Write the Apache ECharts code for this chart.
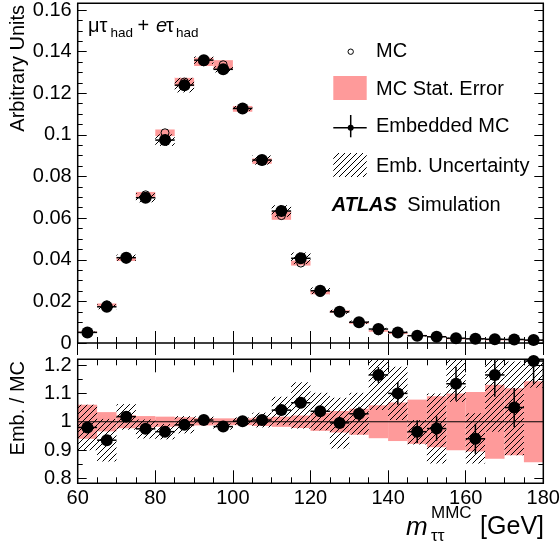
<!DOCTYPE html>
<html><head><meta charset="utf-8">
<script src="https://cdn.jsdelivr.net/npm/echarts@6/dist/echarts.min.js"></script>
<style>html,body{margin:0;padding:0;background:#fff}#c{width:560px;height:548px}</style>
</head><body><div id="c"></div>
<script>
// ---------------- data ----------------
const binCenters = [62.5,67.5,72.5,77.5,82.5,87.5,92.5,97.5,102.5,107.5,112.5,117.5,122.5,127.5,132.5,137.5,142.5,147.5,152.5,157.5,162.5,167.5,172.5,177.5];
const binWidth = 5;
const embValues = [0.0051,0.0174,0.0410,0.0698,0.0975,0.1239,0.1359,0.1315,0.1127,0.0879,0.0634,0.0407,0.0251,0.0150,0.0100,0.0067,0.0051,0.0035,0.0030,0.0023,0.0020,0.0018,0.0017,0.0014];
const mcValues = [0.0052,0.0184,0.0403,0.0712,0.1010,0.1254,0.1351,0.1337,0.1125,0.0874,0.0612,0.0384,0.0242,0.0151,0.0097,0.0058,0.0046,0.0036,0.0031,0.0020,0.0021,0.0015,0.0016,0.0012];
const mcStatErr = [0.0003,0.0006,0.0009,0.0014,0.0016,0.0020,0.0020,0.0022,0.0014,0.0013,0.0020,0.0012,0.0008,0.0006,0.0005,0.0004,0.0003,0.0003,0.0003,0.0002,0.0002,0.0002,0.0002,0.0002];
const embUnc = [0.0004,0.0012,0.0015,0.0022,0.0028,0.0035,0.0018,0.0015,0.0012,0.0022,0.0028,0.0028,0.0016,0.0010,0.0008,0.0006,0.0004,0.0003,0.0003,0.0002,0.0002,0.0002,0.0002,0.0002];
const ratioValues = [0.980,0.935,1.018,0.975,0.965,0.989,1.006,0.983,1.002,1.006,1.041,1.067,1.037,0.996,1.028,1.165,1.100,0.965,0.976,1.134,0.940,1.165,1.050,1.214];
const ratioErr = [0.010,0.010,0.008,0.008,0.008,0.007,0.006,0.006,0.006,0.008,0.010,0.012,0.015,0.020,0.025,0.028,0.040,0.040,0.043,0.060,0.053,0.077,0.069,0.080];
const ratioStatErr = [0.060,0.034,0.023,0.020,0.018,0.016,0.013,0.012,0.012,0.015,0.018,0.022,0.032,0.038,0.046,0.058,0.068,0.078,0.090,0.100,0.105,0.130,0.118,0.143];
const ratioUncLow = [0.900,0.860,0.972,0.941,0.938,0.959,0.993,0.972,0.989,0.980,0.988,0.976,0.970,0.906,0.955,1.041,1.006,0.920,0.853,1.070,0.853,0.965,0.882,1.120];
const ratioUncHigh = [1.060,1.010,1.062,1.008,0.992,1.020,1.019,0.994,1.015,1.032,1.088,1.139,1.102,1.085,1.102,1.290,1.194,1.006,1.100,1.260,1.030,1.360,1.212,1.300];
const xTickLabels = [60,80,100,120,140,160,180];
const yTopTickLabels = [0,0.02,0.04,0.06,0.08,0.1,0.12,0.14,0.16];
const yRatioTickLabels = [0.8,0.9,1,1.1,1.2];

// ---------------- layout ----------------
const FONT = '"Liberation Sans", Arial, Helvetica, sans-serif';
const L = 77.7, W = 465.6;
const F0 = {top: 3.3, bottom: 343};
const G0 = {top: 10, bottom: 343};
const F1 = {top: 359.3, bottom: 483.3};
const G1 = {top: 365, bottom: 478.5};
const PINK = '#fe9a9a';

function makeHatch(){
  const s = 6, c = document.createElement('canvas'); c.width = s; c.height = s;
  const g = c.getContext('2d'); g.strokeStyle = '#000'; g.lineWidth = 1;
  g.beginPath();
  g.moveTo(0, s); g.lineTo(s, 0);
  g.moveTo(-1, 1); g.lineTo(1, -1);
  g.moveTo(s - 1, s + 1); g.lineTo(s + 1, s - 1);
  g.stroke();
  return c;
}
const hatch = {image: makeHatch(), repeat: 'repeat'};

function boxes(gi, rows, fill, z, fr){
  return {type:'custom', xAxisIndex: gi*2, yAxisIndex: gi*2, z: z, silent: true, clip: false, data: rows,
    renderItem: function(params, api){
      const x = api.value(0), lo = api.value(1), hi = api.value(2);
      const p1 = api.coord([x - binWidth/2, hi]);
      const p2 = api.coord([x + binWidth/2, lo]);
      let y1 = Math.max(p1[1], fr.top), y2 = Math.min(p2[1], fr.bottom);
      if (y2 - y1 < 1) { const m = (y1 + y2) / 2; y1 = m - 0.5; y2 = m + 0.5; }
      return {type:'rect', shape:{x: p1[0], y: y1, width: p2[0] - p1[0], height: y2 - y1}, style:{fill: fill}};
    }};
}
function errBars(gi, rows, z, fr){
  return {type:'custom', xAxisIndex: gi*2, yAxisIndex: gi*2, z: z, silent: true, clip: false, data: rows,
    renderItem: function(params, api){
      const x = api.value(0), y = api.value(1), e = api.value(2);
      const l = api.coord([x - binWidth/2, y]), r = api.coord([x + binWidth/2, y]);
      const ch = [{type:'line', shape:{x1:l[0], y1:l[1], x2:r[0], y2:r[1]}, style:{stroke:'#000', lineWidth:1.5}}];
      if (!isNaN(e) && e > 0) {
        const t = api.coord([x, y + e]), b = api.coord([x, y - e]);
        ch.push({type:'line', shape:{x1:t[0], y1:Math.max(t[1], fr.top), x2:b[0], y2:Math.min(b[1], fr.bottom)}, style:{stroke:'#000', lineWidth:1.5}});
      }
      return {type:'group', children: ch};
    }};
}

const xCommon = {type:'value', min: xTickLabels[0], max: xTickLabels[xTickLabels.length-1], interval: xTickLabels[1]-xTickLabels[0],
  axisLine:{show:false}, splitLine:{show:false}};
function xAx(gi, pos, offset, tickLen, showLabels){
  return Object.assign({}, xCommon, {gridIndex: gi, position: pos, offset: offset,
    axisLabel: {show: showLabels, fontSize: 20, fontFamily: FONT, color: '#000', margin: 5},
    axisTick: {show:true, inside:true, length: tickLen, lineStyle:{color:'#000', width:1}},
    minorTick: {show:true, splitNumber:4, length: 6, lineStyle:{color:'#000', width:1}}});
}
function yAx(gi, pos, ticks, minorSplit, showLabels){
  return {type:'value', gridIndex: gi, position: pos, min: ticks[0], max: ticks[ticks.length-1], interval: +(ticks[1]-ticks[0]).toFixed(4),
    axisLine:{show:false}, splitLine:{show:false},
    axisLabel: {show: showLabels, fontSize: 20, fontFamily: FONT, color: '#000', margin: 6},
    axisTick: {show:true, inside:true, length: 9, lineStyle:{color:'#000', width:1}},
    minorTick: {show:true, splitNumber: minorSplit, length: 5, lineStyle:{color:'#000', width:1}}};
}

function txt(x, baseline, text, size, opts){
  opts = opts || {};
  return {type:'text', x: x, y: baseline - 0.3465*size, z: 100, silent: true,
    style: {text: text, fontSize: size, fontFamily: FONT, fontStyle: opts.italic ? 'italic' : 'normal',
      fontWeight: opts.bold ? 'bold' : 'normal', fill: '#000',
      textAlign: opts.align || 'left', align: opts.align || 'left', textVerticalAlign: 'middle', verticalAlign: 'middle'}};
}
function txtC(x, yc, text, size, opts){ return txt(x, yc + 0.3465*size, text, size, opts); }

const chart = echarts.init(document.getElementById('c'), null, {renderer: 'canvas'});
chart.setOption({
  animation: false,
  backgroundColor: '#fff',
  grid: [
    {left: L, top: G0.top, width: W, height: G0.bottom - G0.top, containLabel: false, outerBoundsMode: 'none'},
    {left: L, top: G1.top, width: W, height: G1.bottom - G1.top, containLabel: false, outerBoundsMode: 'none'}
  ],
  xAxis: [
    xAx(0, 'bottom', 0, 12, false),
    xAx(0, 'top', G0.top - F0.top, 12, false),
    xAx(1, 'bottom', F1.bottom - G1.bottom, 13, true),
    xAx(1, 'top', G1.top - F1.top, 13, false)
  ],
  yAxis: [
    yAx(0, 'left', yTopTickLabels, 4, true),
    yAx(0, 'right', yTopTickLabels, 4, false),
    yAx(1, 'left', yRatioTickLabels, 2, true),
    yAx(1, 'right', yRatioTickLabels, 2, false)
  ],
  series: [
    boxes(0, binCenters.map((x,i)=>[x, mcValues[i]-mcStatErr[i], mcValues[i]+mcStatErr[i]]), PINK, 2, F0),
    boxes(0, binCenters.map((x,i)=>[x, embValues[i]-embUnc[i], embValues[i]+embUnc[i]]), hatch, 3, F0),
    {type:'scatter', xAxisIndex:0, yAxisIndex:0, z:4, silent:true, clip:false, symbol:'circle', symbolSize:8,
      itemStyle:{color:'rgba(0,0,0,0)', borderColor:'#000', borderWidth:1, opacity:1},
      data: binCenters.map((x,i)=>[x, mcValues[i]])},
    errBars(0, binCenters.map((x,i)=>[x, embValues[i]]), 5, F0),
    {type:'scatter', xAxisIndex:0, yAxisIndex:0, z:60, silent:true, clip:false, symbol:'circle', symbolSize:12,
      itemStyle:{color:'#000', opacity:1}, data: binCenters.map((x,i)=>[x, embValues[i]])},

    boxes(1, binCenters.map((x,i)=>[x, 1-ratioStatErr[i], 1+ratioStatErr[i]]), PINK, 2, F1),
    boxes(1, binCenters.map((x,i)=>[x, ratioUncLow[i], ratioUncHigh[i]]), hatch, 3, F1),
    {type:'line', xAxisIndex:2, yAxisIndex:2, z:4, silent:true, symbol:'none',
      lineStyle:{color:'#000', width:1}, data: [[xTickLabels[0], 1], [xTickLabels[xTickLabels.length-1], 1]]},
    errBars(1, binCenters.map((x,i)=>[x, ratioValues[i], ratioErr[i]]), 5, F1),
    {type:'scatter', xAxisIndex:2, yAxisIndex:2, z:60, silent:true, clip:false, symbol:'circle', symbolSize:12,
      itemStyle:{color:'#000', opacity:1}, data: binCenters.map((x,i)=>[x, ratioValues[i]])}
  ],
  graphic: [
    {type:'rect', z:50, silent:true, shape:{x:L, y:F0.top, width:W, height:F0.bottom-F0.top}, style:{fill:'none', stroke:'#000', lineWidth:1.5}},
    {type:'rect', z:50, silent:true, shape:{x:L, y:F1.top, width:W, height:F1.bottom-F1.top}, style:{fill:'none', stroke:'#000', lineWidth:1.5}},
    // y titles
    {type:'text', x:18, y:5, rotation: Math.PI/2, z:100, silent:true,
      style:{text:'Arbitrary Units', fontSize:20, fontFamily:FONT, fill:'#000', textAlign:'right', align:'right', textVerticalAlign:'middle', verticalAlign:'middle'}},
    {type:'text', x:18, y:361, rotation: Math.PI/2, z:100, silent:true,
      style:{text:'Emb. / MC', fontSize:20, fontFamily:FONT, fill:'#000', textAlign:'right', align:'right', textVerticalAlign:'middle', verticalAlign:'middle'}},
    // x title
    txt(406, 537, 'm', 26, {italic:true}),
    txt(431, 519.5, 'MMC', 17),
    txt(431, 542, 'ττ', 17),
    txt(544, 536, '[GeV]', 25, {align:'right'}),
    // channel label
    txt(88, 33.5, 'μτ', 20),
    txt(110.5, 37.5, 'had', 13.5),
    txt(137.5, 33.5, '+', 20),
    txt(156, 33.5, 'e', 20, {italic:true}),
    txt(166, 33.5, 'τ', 20),
    txt(176, 37.5, 'had', 13.5),
    // legend
    {type:'circle', z:100, silent:true, shape:{cx:350.7, cy:51.7, r:2.7}, style:{fill:'#fff', stroke:'#000', lineWidth:1}},
    txtC(376, 51.7, 'MC', 20),
    {type:'rect', z:100, silent:true, shape:{x:333.3, y:76, width:33.4, height:24}, style:{fill:PINK}},
    txtC(376, 89.7, 'MC Stat. Error', 20),
    {type:'line', z:100, silent:true, shape:{x1:333.3, y1:127.7, x2:366.7, y2:127.7}, style:{stroke:'#000', lineWidth:1.5}},
    {type:'line', z:100, silent:true, shape:{x1:350.7, y1:115, x2:350.7, y2:137.3}, style:{stroke:'#000', lineWidth:1.5}},
    {type:'circle', z:100, silent:true, shape:{cx:350.7, cy:127.7, r:3}, style:{fill:'#000'}},
    txtC(376, 126.7, 'Embedded MC', 20),
    {type:'rect', z:100, silent:true, shape:{x:333.3, y:153, width:33.4, height:24}, style:{fill:hatch}},
    txtC(376, 166, 'Emb. Uncertainty', 20),
    txtC(331.7, 205, 'ATLAS', 20, {italic:true, bold:true}),
    txtC(407.3, 205, 'Simulation', 20)
  ]
});
</script></body></html>
